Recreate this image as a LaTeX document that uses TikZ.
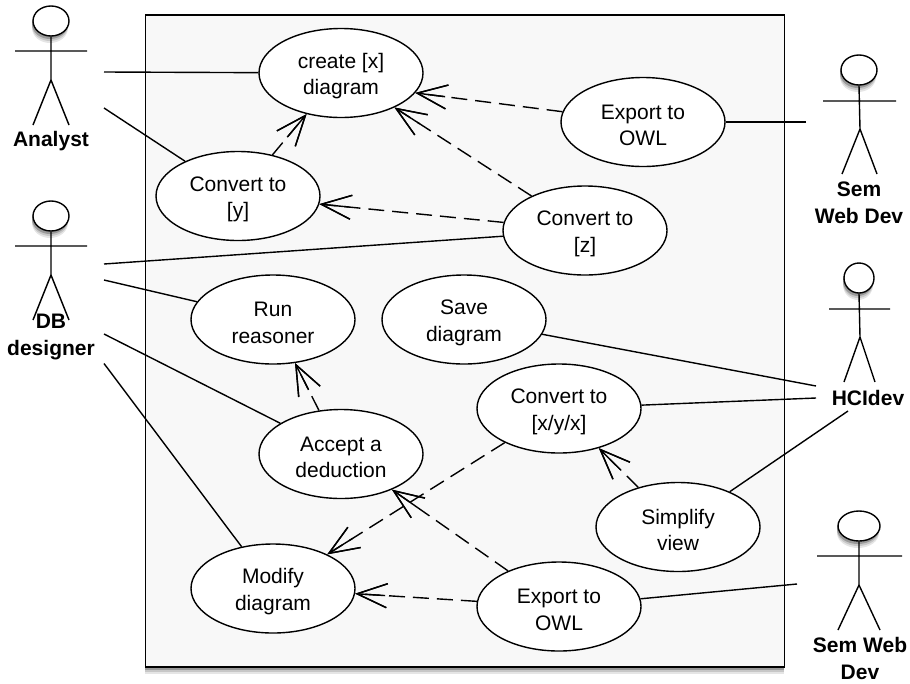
\documentclass[tikz,border=0pt]{standalone}
\usepackage{fontspec}
\setmainfont{Liberation Sans}
\usetikzlibrary{arrows.meta}
\usetikzlibrary{shapes.geometric}
\usetikzlibrary{shadows}
\usetikzlibrary{decorations.markings}
\definecolor{panelgray}{HTML}{F8F8F8}
\newcommand{\tl}{\rule{0pt}{21.5pt}}

\begin{document}
\begin{tikzpicture}
    [x=1pt, y=-1pt, line width=1.4pt,
     softshadow/.style={
        general shadow={shadow xshift=-1pt, shadow yshift=-7pt, fill=black!10},
        general shadow={shadow xshift=-1pt, shadow yshift=-5pt, fill=black!22},
        general shadow={shadow xshift=-1pt, shadow yshift=-3pt, fill=black!40}},
     uc/.style={ellipse, draw, fill=white, minimum width=164pt, minimum height=89pt, inner sep=0pt, align=center,
        font=\fontsize{21}{26.5}\selectfont},
     head/.style={ellipse, draw, fill=white, inner sep=0pt, minimum height=30pt, softshadow},
     lb/.style={align=center, inner sep=0pt, font=\fontsize{21}{27}\selectfont\bfseries},
     as/.style={draw},
     inc/.style={draw, dash pattern=on 16pt off 8pt, -{Straight Barb[length=30pt, width=24pt]},
        postaction={decorate, decoration={markings, mark=at position -0.1pt with {\draw [solid] (-30pt, 0pt) -- (0pt, 0pt);}}}}]

    \useasboundingbox (0, 0) rectangle (910, 683);

    \node [draw, line width=1.7pt, fill=panelgray, minimum width=639pt, minimum height=652pt, inner sep=0pt, softshadow] (panel) at (465, 341) {};

    \node [uc] (create) at (341, 73) {\tl create [x]\\diagram};
    \node [uc] (exportA) at (643, 122) {\tl Export to\\OWL};
    \node [uc] (convY) at (238, 196) {\tl Convert to\\{[y]}};
    \node [uc] (convZ) at (585, 230.5) {\tl Convert to\\{[z]}};
    \node [uc] (run) at (273, 319.5) {\tl Run\\reasoner};
    \node [uc] (save) at (464, 319.5) {\tl Save\\diagram};
    \node [uc] (convX) at (559, 408.5) {\tl Convert to\\{[x/y/x]}};
    \node [uc] (accept) at (341, 454) {\tl Accept a\\deduction};
    \node [uc] (simplify) at (678, 527) {\tl Simplify\\view};
    \node [uc] (modify) at (273, 588.5) {\tl Modify\\diagram};
    \node [uc] (exportB) at (559, 606.5) {\tl Export to\\OWL};

    % analyst
    \node [head, minimum width=36pt] (h0) at (51, 21) {};
    \draw (h0.south) -- (51, 80) -- (33, 125) (51, 80) -- (69, 125) (15, 51) -- (87, 51);
    \node [lb] (l0) at (51, 141) {Analyst};

    % db designer
    \node [head, minimum width=36pt] (h1) at (51, 216) {};
    \draw (h1.south) -- (51, 275) -- (33, 320) (51, 275) -- (69, 320) (15, 246) -- (87, 246);
    \node [lb] (l1) at (51, 337) {DB\\designer};

    % sem web dev, top
    \node [head, minimum width=36pt] (h2) at (859, 70) {};
    \draw (h2.south) -- (860, 129) -- (842, 174) (860, 129) -- (877, 174) (823, 101) -- (896, 101);
    \node [lb] (l2) at (859, 203) {Sem\\Web Dev};

    % hci dev
    \node [head, minimum width=30pt] (h3) at (859, 278) {};
    \draw (h3.south) -- (860, 337) -- (844, 382) (860, 337) -- (875, 382) (829, 309) -- (890, 309);
    \node [lb] (l3) at (868, 398) {HCIdev};

    % sem web dev, bottom
    \node [head, minimum width=42pt] (h4) at (859, 526) {};
    \draw (h4.south) -- (859, 585) -- (838, 630) (859, 585) -- (880, 630) (817, 556) -- (902, 556);
    \node [lb] (l4) at (860, 658.5) {Sem Web\\Dev};

    \coordinate (a0) at (104, 72);
    \coordinate (a1) at (104, 108);
    \coordinate (a2) at (104, 264);
    \coordinate (a3) at (104, 280);
    \coordinate (a4) at (104, 334);
    \coordinate (a5) at (104, 363.5);
    \coordinate (a6) at (806, 122);
    \coordinate (a7) at (816, 386);
    \coordinate (a8) at (816, 398);
    \coordinate (a9) at (848, 411);
    \coordinate (a10) at (797, 584);

    \draw [as] (a0) -- (create);
    \draw [as] (a1) -- (convY);
    \draw [as] (a2) -- (convZ);
    \draw [as] (a3) -- (run);
    \draw [as] (a4) -- (accept);
    \draw [as] (a5) -- (modify);
    \draw [as] (a6) -- (exportA);
    \draw [as] (a7) -- (save);
    \draw [as] (a8) -- (convX);
    \draw [as] (a9) -- (simplify);
    \draw [as] (a10) -- (exportB);

    \draw [inc] (exportA) -- (create.-15);
    \draw [inc] (convZ) -- (create);
    \draw [inc] (convZ) -- (convY);
    \draw [inc] (convY) -- (create);
    \draw [inc] (accept) -- (run);
    \draw [inc] (simplify) -- (convX);
    \draw [inc] (convX) -- (modify);
    \draw [inc] (exportB) -- (accept);
    \draw [inc] (exportB) -- (modify);
\end{tikzpicture}
\end{document}
